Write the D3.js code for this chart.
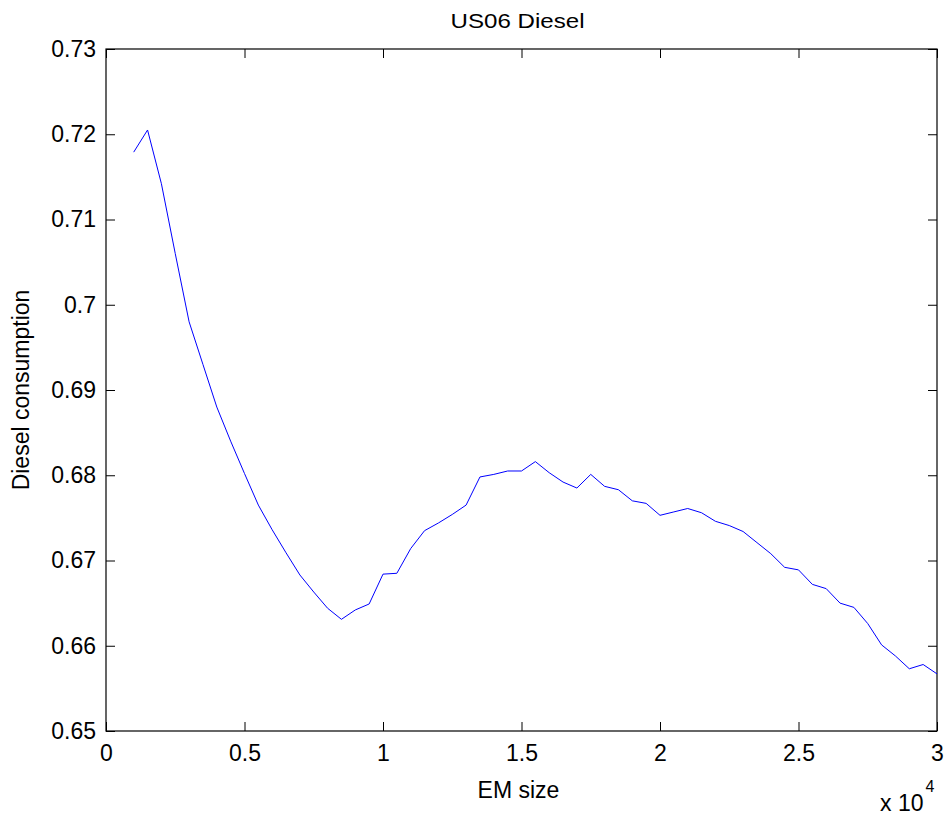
<!DOCTYPE html>
<html>
<head>
<meta charset="utf-8">
<script src="https://cdn.jsdelivr.net/npm/d3@7"></script>
<style>
  body { margin: 0; background: #fff; }
  svg text { font-family: "Liberation Sans", Arial, sans-serif; fill: #000; }
</style>
</head>
<body>
<div id="chart"></div>
<script>
// EM size values (raw units) and diesel consumption
var emSize = [1000, 1500, 2000, 2500, 3000, 3500, 4000, 4500, 5000, 5500,
              6000, 6500, 7000, 7500, 8000, 8500, 9000, 9500, 10000, 10500,
              11000, 11500, 12000, 12500, 13000, 13500, 14000, 14500, 15000, 15500,
              16000, 16500, 17000, 17500, 18000, 18500, 19000, 19500, 20000, 20500,
              21000, 21500, 22000, 22500, 23000, 23500, 24000, 24500, 25000, 25500,
              26000, 26500, 27000, 27500, 28000, 28500, 29000, 29500, 30000];
var diesel = [0.7179, 0.7205, 0.7142, 0.7060, 0.6980, 0.6930, 0.6880, 0.6840, 0.6802, 0.6765,
              0.6736, 0.6709, 0.6683, 0.6663, 0.6644, 0.6631, 0.6642, 0.6649, 0.6684, 0.6685,
              0.6714, 0.6735, 0.6744, 0.6754, 0.6765, 0.6798, 0.6801, 0.6805, 0.6805, 0.6816,
              0.6803, 0.6792, 0.6785, 0.6801, 0.6787, 0.6783, 0.6770, 0.6767, 0.6753, 0.6757,
              0.6761, 0.6756, 0.6746, 0.6741, 0.6734, 0.6721, 0.6708, 0.6692, 0.6689, 0.6672,
              0.6667, 0.6650, 0.6645, 0.6626, 0.6601, 0.6588, 0.6573, 0.6578, 0.6567];

var xTicks = [0, 5000, 10000, 15000, 20000, 25000, 30000];
var xTickLabels = ["0", "0.5", "1", "1.5", "2", "2.5", "3"];
var yTicks = [0.65, 0.66, 0.67, 0.68, 0.69, 0.70, 0.71, 0.72, 0.73];
var yTickLabels = ["0.65", "0.66", "0.67", "0.68", "0.69", "0.7", "0.71", "0.72", "0.73"];

var width = 949, height = 817;
var margin = {top: 49, right: 12, bottom: 86, left: 106};
var w = width - margin.left - margin.right,
    h = height - margin.top - margin.bottom;

var svg = d3.select("#chart").append("svg")
            .attr("width", width)
            .attr("height", height);

var g = svg.append("g")
           .attr("transform", "translate(" + margin.left + "," + margin.top + ")");

var x = d3.scaleLinear().domain([0, 30000]).range([0, w]);
var y = d3.scaleLinear().domain([0.65, 0.73]).range([h, 0]);

var tickLen = 9;

// bottom axis with labels, top axis tick marks only (matlab box style)
var xAxis = d3.axisBottom(x)
              .tickValues(xTicks)
              .tickSizeInner(-tickLen)
              .tickSizeOuter(0)
              .tickPadding(14)
              .tickFormat(function(d, i) { return xTickLabels[i]; });

var gx = g.append("g")
          .attr("transform", "translate(0," + h + ")")
          .call(xAxis);
gx.selectAll("text").style("font-size", "23px");

g.append("g")
 .call(d3.axisTop(x).tickValues(xTicks).tickSizeInner(-tickLen).tickSizeOuter(0).tickFormat(""));

var yAxis = d3.axisLeft(y)
              .tickValues(yTicks)
              .tickSizeInner(-tickLen)
              .tickSizeOuter(0)
              .tickPadding(10)
              .tickFormat(function(d, i) { return yTickLabels[i]; });

var gy = g.append("g").call(yAxis);
gy.selectAll("text").style("font-size", "23px");

g.append("g")
 .attr("transform", "translate(" + w + ",0)")
 .call(d3.axisRight(y).tickValues(yTicks).tickSizeInner(-tickLen).tickSizeOuter(0).tickFormat(""));

g.selectAll(".domain").remove();
g.selectAll(".tick line").attr("stroke", "#000").attr("stroke-width", 1);
g.selectAll(".tick text").attr("fill", "#000");

// box
g.append("rect")
 .attr("x", 0).attr("y", 0)
 .attr("width", w).attr("height", h)
 .attr("fill", "none")
 .attr("stroke", "#000")
 .attr("stroke-width", 1.2);

var line = d3.line()
             .x(function(d, i) { return x(emSize[i]); })
             .y(function(d) { return y(d); });

g.append("path")
 .datum(diesel)
 .attr("d", line)
 .attr("fill", "none")
 .attr("stroke", "#0000ff")
 .attr("stroke-width", 1);

// title and labels
svg.append("text")
   .attr("x", margin.left + w / 2 - 4)
   .attr("y", 28)
   .attr("text-anchor", "middle")
   .attr("textLength", 134)
   .attr("lengthAdjust", "spacingAndGlyphs")
   .style("font-size", "21px")
   .text("US06 Diesel");

svg.append("text")
   .attr("x", margin.left + w / 2 - 3)
   .attr("y", 798)
   .attr("text-anchor", "middle")
   .style("font-size", "23px")
   .text("EM size");

svg.append("text")
   .attr("transform", "translate(29," + (margin.top + h / 2) + ") rotate(-90)")
   .attr("text-anchor", "middle")
   .style("font-size", "23px")
   .text("Diesel consumption");

var mult = svg.append("text")
              .attr("x", 880)
              .attr("y", 811)
              .style("font-size", "23px");
mult.append("tspan").text("x 10");
mult.append("tspan").attr("dx", 2).attr("dy", -19).style("font-size", "16px").text("4");
</script>
</body>
</html>
